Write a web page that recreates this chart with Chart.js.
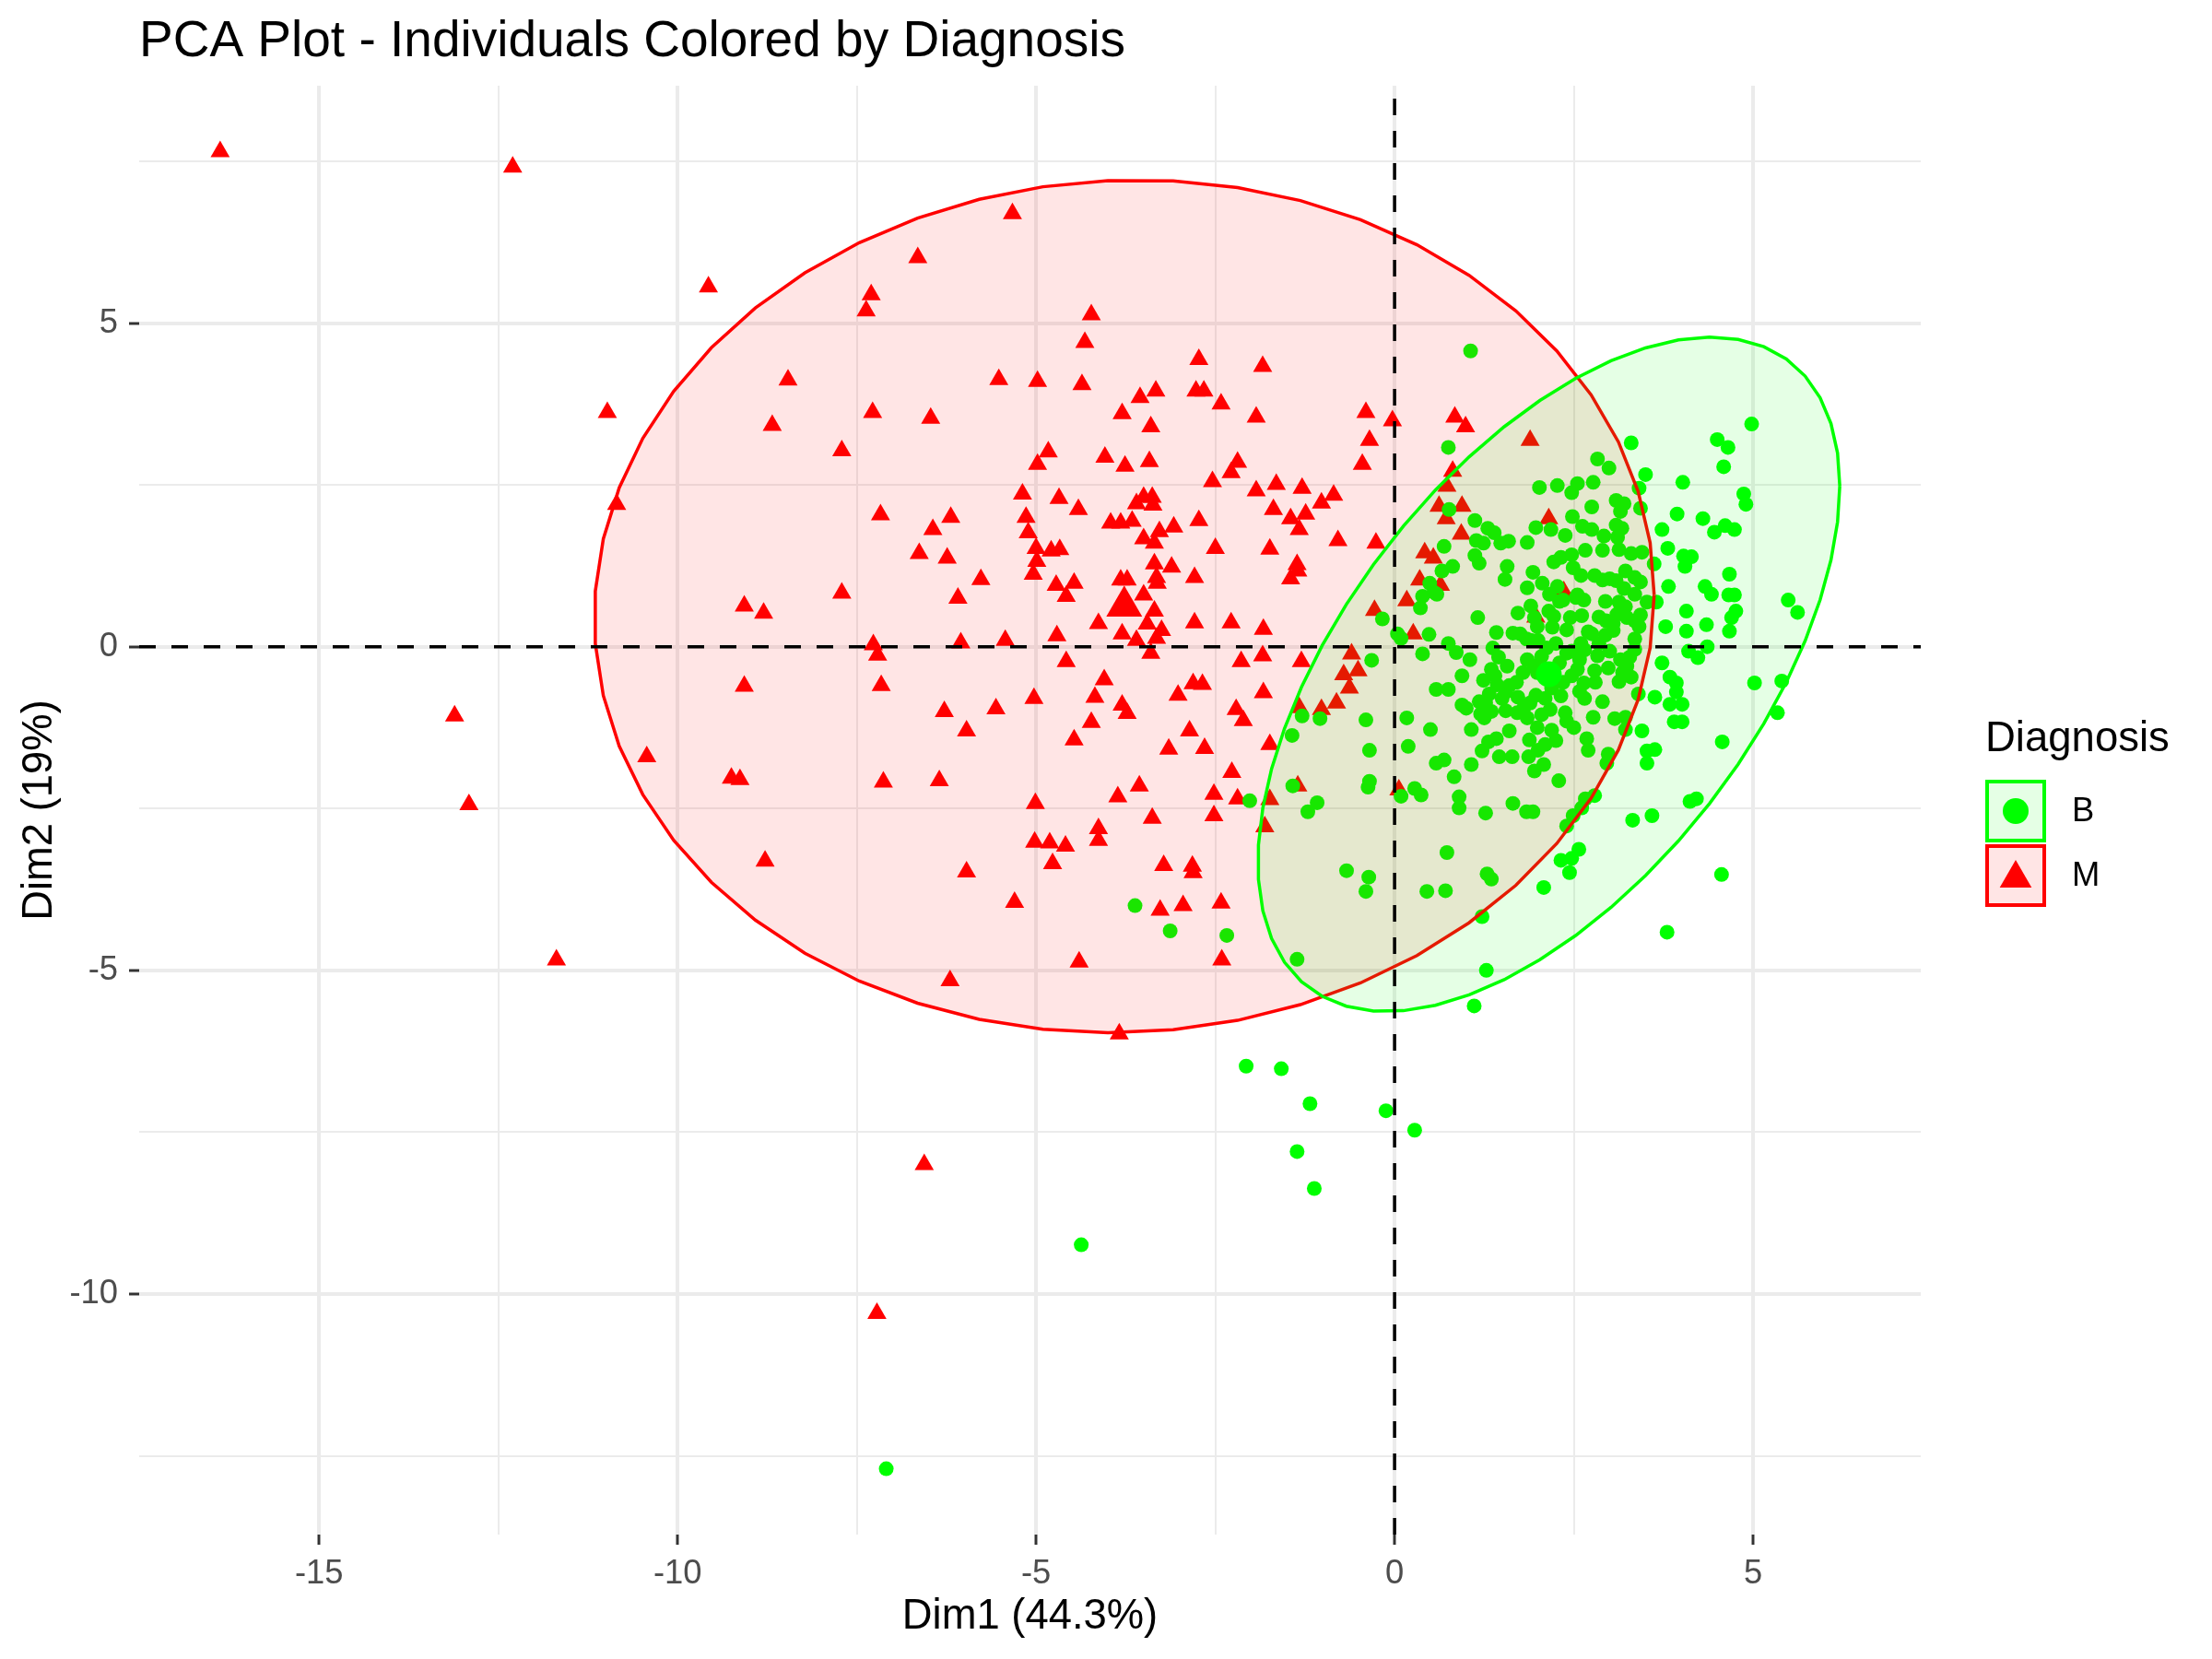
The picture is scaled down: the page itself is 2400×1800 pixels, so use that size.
<!DOCTYPE html>
<html>
<head>
<meta charset="utf-8">
<script src="https://cdn.jsdelivr.net/npm/chart.js@4.4.1/dist/chart.umd.min.js"></script>
<style>
	html, body { margin: 0; padding: 0; background: #fff; }
	#wrap { width: 2400px; height: 1800px; }
</style>
</head>
<body>
<div id="wrap"><canvas id="pca-chart"></canvas></div>
<script>
// individuals on the first two principal components
const groups = ["B", "M"];
const benign = [
	[0.49,0.98],[0.39,0.78],[0.55,0.84],[0.36,0.60],[-0.17,0.43],[0.04,0.20],[0.09,0.13],[0.48,0.19],[0.39,-0.11],[-0.32,-0.21],
	[0.58,-0.66],[-1.29,-1.07],[-1.04,-1.11],[-0.40,-1.13],[0.17,-1.10],[0.50,-1.28],[-1.43,-1.37],[-0.35,-1.60],[0.19,-1.54],[0.58,-1.80],
	[-1.42,-2.15],[-0.35,-2.08],[-0.37,-2.17],[0.09,-2.31],[0.28,-2.19],[0.37,-2.29],[-2.02,-2.38],[-1.08,-2.41],[-1.21,-2.55],[-0.67,-3.46],
	[-0.36,-3.56],[-0.40,-3.78],[0.45,-3.78],[-3.13,-4.39],[-2.34,-4.46],[-1.36,-4.83],[-2.07,-6.48],[-1.58,-6.52],[-3.62,-4.00],
	[1.06,4.57],[-1.18,-7.06],[-1.36,-7.80],[-1.12,-8.37],[-0.12,-7.17],[0.28,-7.47],[-4.37,-9.24],[-7.09,-12.70],
	[0.75,3.08],[2.83,2.90],[2.99,2.76],[2.02,2.46],[2.27,2.49],[2.47,2.38],[2.55,2.52],[2.77,2.54],[2.75,2.16],[0.76,2.12],
	[1.12,1.95],[1.30,1.83],[1.39,1.76],[1.97,1.84],[2.18,1.81],[2.38,1.72],[2.48,2.01],[2.62,1.86],[2.75,1.81],[2.92,1.71],
	[0.69,1.55],[1.14,1.64],[1.24,1.60],[1.48,1.60],[1.59,1.63],[1.85,1.61],[2.66,1.49],[2.90,1.49],[1.12,1.41],[1.18,1.29],
	[0.81,1.24],[0.66,1.17],[1.57,1.24],[1.54,1.04],[1.93,1.15],[2.22,1.31],[2.32,1.38],[2.47,1.42],[2.49,1.22],[2.60,1.10],
	[2.79,1.10],[2.90,1.03],[1.85,0.91],[2.06,0.98],[2.16,0.81],[2.27,0.93],[2.35,0.72],[2.53,0.76],[2.64,0.72],[0.59,0.81],
	[2.94,0.70],[1.16,0.45],[1.72,0.52],[1.90,0.63],[2.22,0.47],[2.61,0.48],[2.85,0.46],[3.05,0.36],[1.42,0.22],[1.65,0.21],
	[1.99,0.31],[2.40,0.26],[2.70,0.23],[2.94,0.18],[0.75,0.05],[1.84,0.12],[0.86,-0.09],[1.37,-0.02],[2.12,-0.02],[2.47,-0.07],
	[2.58,-0.20],[2.83,-0.14],[3.00,-0.07],[1.45,-0.16],[1.57,-0.30],[1.35,-0.35],[0.94,-0.45],[1.79,-0.40],[1.99,-0.40],[2.47,-0.45],
	[2.64,-0.56],[2.79,-0.37],[2.98,-0.33],[0.75,-0.66],[1.24,-0.52],[1.43,-0.59],[1.32,-0.73],[2.19,-0.64],[2.32,-0.76],[2.58,-0.69],
	[1.18,-0.85],[1.72,-0.78],[1.97,-0.75],
	[0.94,-0.90],[1.27,-0.87],[1.55,-0.99],[1.71,-1.02],[1.20,-1.04],[1.89,-0.87],[2.17,-0.97],[2.38,-1.02],[1.99,-1.25],[2.19,-1.29],
	[1.88,-1.44],[2.10,-1.51],[1.31,-1.47],[1.42,-1.42],[1.07,-1.28],[1.22,-1.61],[1.46,-1.70],[1.64,-1.70],[1.87,-1.70],[1.95,-1.92],
	[2.08,-1.82],[0.69,-1.75],[1.07,-1.82],[0.83,-2.01],[2.29,-2.07],[2.77,-1.09],[3.07,-1.11],[3.22,-1.28],[2.68,-1.42],[2.98,-1.66],
	[2.96,-1.80],[0.90,-2.32],[0.90,-2.49],[1.27,-2.57],[1.65,-2.42],[1.84,-2.55],[1.93,-2.55],[2.66,-2.35],[2.79,-2.30],[2.61,-2.49],
	[2.49,-2.61],[2.40,-2.77],[2.57,-3.13],[2.47,-3.27],[2.32,-3.30],[2.44,-3.49],[2.08,-3.72],[0.73,-3.18],[1.29,-3.51],[1.35,-3.59],
	[0.71,-3.77],[1.22,-4.17],[1.28,-5.00],[1.11,-5.55],
	[4.98,3.44],[4.50,3.20],[4.65,3.08],[4.59,2.78],[3.30,3.15],[3.50,2.66],[4.02,2.54],[3.41,2.45],[4.87,2.36],[4.90,2.20],
	[3.09,2.26],[3.20,2.21],[3.43,2.14],[3.94,2.05],[4.30,1.98],[4.46,1.77],[4.61,1.87],[4.74,1.81],[3.73,1.81],[3.09,1.88],
	[3.17,1.83],[3.11,1.69],[3.81,1.52],[4.03,1.40],[4.14,1.39],[4.05,1.24],[3.30,1.44],[3.45,1.46],[3.62,1.28],[3.13,1.50],
	[4.67,1.12],[4.33,0.93],[4.42,0.81],[4.66,0.80],[4.74,0.80],[3.82,0.93],[3.22,1.17],[3.35,1.07],[3.43,1.00],[3.09,1.02],
	[3.35,0.81],[3.52,0.69],[3.65,0.69],[5.49,0.72],[5.62,0.53],[4.07,0.55],[4.76,0.55],[4.70,0.45],[4.35,0.34],[4.67,0.24],
	[4.07,0.24],[3.78,0.31],[3.24,0.45],[3.43,0.49],[3.35,0.12],[4.10,-0.07],[4.23,-0.17],[4.36,0.00],[3.73,-0.25],[3.28,-0.16],
	[3.18,-0.40],[3.30,-0.47],[3.84,-0.47],[3.93,-0.56],[5.02,-0.56],[5.40,-0.53],[3.40,-0.73],[3.93,-0.70],[3.63,-0.78],[4.01,-0.89],
	[3.84,-0.89],[3.15,2.09],[3.22,0.62],[3.35,0.40],[3.41,0.31],[3.35,-0.04],[3.24,-0.30],[3.13,-0.54],[3.13,0.69],
	[5.34,-1.02],[4.57,-1.47],[3.52,-1.61],[3.63,-1.59],[3.52,-1.80],[3.22,-1.09],[3.45,-1.30],[3.90,-1.16],[4.01,-1.16],[4.12,-2.39],
	[4.21,-2.35],[3.32,-2.68],[3.59,-2.61],[4.56,-3.52],[3.80,-4.41],
	// dense core, mostly hidden under neighbouring dots
	[2.05,-0.15],[2.30,-0.25],[2.15,-0.50],[1.95,-0.30],[2.40,-0.10],[2.25,0.05],[1.85,-0.20],[2.55,-0.35],[2.10,-0.80],[1.70,-0.55],
	[2.35,-0.55],[2.00,0.10],[2.65,-0.05],[1.60,-0.60],[2.85,0.05],[2.20,0.30],[1.80,-0.95],[2.45,0.45],[2.75,0.20],[2.05,-1.05],
	[1.55,-0.70],[2.95,0.40],[2.40,-1.15],[1.75,0.20],[2.65,-0.80],[3.05,0.25],[2.15,0.55],[1.40,-0.45],[1.25,-1.10],[1.50,-0.80],
	[1.85,-1.10],[2.50,-1.25],[2.90,-0.85],[3.15,-0.20],[3.10,0.50],[2.70,-1.60],[2.25,-1.45],[1.60,-1.30],[1.05,-0.20],[1.00,-0.95],
	[2.60,0.05],[2.30,0.70],[1.95,0.45],[2.80,-0.55],[3.20,0.90],[1.35,-1.00],[2.00,-1.60],[2.55,0.80],[3.00,1.05],[1.90,0.10]
];
const malignant = [
	[-16.38,7.65],[-12.30,7.41],[-9.57,5.56],[-10.98,3.62],[-10.85,2.20],[-13.11,-1.07],[-12.91,-2.44],[-11.69,-4.84],[-10.43,-1.70],[-9.07,0.63],
	[-8.80,0.52],[-9.07,-0.61],[-9.25,-2.03],[-9.13,-2.05],[-8.78,-3.31],[-8.46,4.12],[-8.68,3.42],[-7.22,-10.30],[-6.56,-8.00],[-5.33,6.69],
	[-6.65,6.01],
	[-7.30,5.44],[-7.37,5.19],[-4.23,5.13],[-4.32,4.70],[-5.52,4.13],[-4.98,4.10],[-4.36,4.05],[-3.55,3.85],[-3.33,3.95],[-3.80,3.60],
	[-3.40,3.40],[-7.28,3.62],[-6.47,3.53],[-7.71,3.03],[-4.83,3.01],[-4.98,2.82],[-4.04,2.93],[-3.76,2.79],[-3.42,2.86],[-5.19,2.36],
	[-4.68,2.29],[-4.41,2.12],[-3.60,2.21],[-3.50,2.31],[-3.38,2.31],[-3.37,2.19],[-3.96,1.91],[-3.82,1.91],[-3.66,1.94],[-3.50,1.67],
	[-3.28,1.78],[-3.35,1.60],[-7.17,2.04],[-6.19,2.00],[-6.44,1.81],[-6.63,1.44],[-6.24,1.37],[-5.14,2.00],[-5.11,1.76],[-5.00,1.52],
	[-4.79,1.48],[-4.67,1.50],[-4.99,1.32],[-5.04,1.12],[-5.77,1.04],[-6.09,0.75],[-7.71,0.83],[-4.72,0.95],[-4.47,0.98],[-4.58,0.78],
	[-3.82,1.03],[-3.73,1.03],[-3.35,1.28],[-3.32,1.07],[-3.31,0.98],[-4.13,0.36],[-4.71,0.17],[-3.32,0.13],[-5.43,0.10],[-6.05,0.06],
	[-7.27,0.03],[-7.21,-0.13],[-4.58,-0.23],
	[-7.16,-0.60],[-4.05,-0.51],[-4.18,-0.78],[-3.80,-0.90],[-3.73,-1.03],[-5.03,-0.80],[-6.28,-1.00],[-5.56,-0.96],[-5.97,-1.30],[-4.23,-1.17],
	[-4.47,-1.44],[-7.13,-2.09],[-6.35,-2.07],[-5.01,-2.42],[-3.56,-2.15],[-3.86,-2.32],[-4.13,-2.81],[-4.13,-2.99],[-5.02,-3.02],[-4.81,-3.03],
	[-4.59,-3.08],[-4.77,-3.35],[-5.97,-3.48],[-5.30,-3.95],[-4.40,-4.87],[-6.20,-5.16],[-3.84,-5.98],
	[-2.73,4.44],[-1.84,4.33],[-2.77,3.95],[-2.66,3.95],[-2.42,3.75],[-1.93,3.55],[-0.40,3.62],[-0.03,3.49],[-0.35,3.19],[-0.45,2.82],
	[-2.19,2.85],[-2.28,2.69],[-2.54,2.55],[-1.93,2.41],[-1.65,2.51],[-1.29,2.45],[-0.85,2.34],[-1.02,2.22],[-1.69,2.12],[-1.45,1.98],
	[-1.24,2.05],[-1.33,1.81],[-2.73,1.95],[-3.08,1.85],[-2.50,1.52],[-1.74,1.51],[-0.79,1.64],[-0.26,1.60],[-3.11,1.23],[-2.79,1.07],
	[-1.36,1.27],[-1.35,1.17],[-1.45,1.05],[-2.79,0.37],[-2.28,0.37],[-1.83,0.27],[0.42,1.45],[0.54,1.37],[0.35,1.03],[0.17,0.71],
	[-0.28,0.56],[0.26,0.20],[-0.60,-0.11],[-1.84,-0.14],[-2.14,-0.23],[-1.30,-0.23],
	[-0.71,-0.43],[-0.51,-0.37],[-0.63,-0.64],[-0.81,-0.87],[-1.02,-0.97],[-1.33,-0.94],[-3.02,-0.75],[-2.81,-0.57],[-2.68,-0.58],[-1.83,-0.71],
	[-2.21,-0.97],[-2.11,-1.14],[-2.86,-1.30],[-3.15,-1.58],[-2.65,-1.57],[-1.74,-1.51],[-2.27,-1.94],[-2.52,-2.28],[-2.19,-2.35],[-1.74,-2.36],
	[-1.35,-2.15],[-2.52,-2.61],[-3.38,-2.65],[-1.81,-2.78],[-3.22,-3.38],[-2.82,-3.39],[-2.81,-3.49],[-3.27,-4.07],[-2.95,-4.00],[-2.42,-3.96],
	[-2.41,-4.84],[0.06,-2.21],
	[0.84,3.55],[0.99,3.40],[1.89,3.19],[0.81,2.71],[0.73,2.48],[0.62,2.17],[0.94,2.17],[0.72,1.98],[0.93,1.74],[2.15,1.98],
	[0.64,0.95],[2.36,0.85],[1.97,0.46],
	// hidden under the group mean marker
	[-3.45,0.35],[-3.60,0.10],[-3.35,0.55],[-3.80,0.20],[-3.50,0.80],[-3.25,0.25],[-3.40,-0.10]
];
const xMajor = [-15, -10, -5, 0, 5];
const xMinor = [-12.5, -7.5, -2.5, 2.5];
const yMajor = [-10, -5, 0, 5];
const yMinor = [-12.5, -7.5, -2.5, 2.5, 7.5];
const colors = { B: "#00FF00", M: "#FF0000" };
const fills = { B: "rgba(0,255,0,0.1)", M: "rgba(255,0,0,0.1)" };
const shapes = { B: "circle", M: "triangle" };

const FONT = '"Liberation Sans", Arial, Helvetica, sans-serif';

// normal-theory 95% ellipse, like stat_ellipse(type = "norm")
function groupStats(pts) {
	const n = pts.length;
	let mx = 0, my = 0;
	pts.forEach((p) => { mx += p[0]; my += p[1]; });
	mx /= n; my /= n;
	let sxx = 0, syy = 0, sxy = 0;
	pts.forEach((p) => {
		sxx += (p[0] - mx) ** 2;
		syy += (p[1] - my) ** 2;
		sxy += (p[0] - mx) * (p[1] - my);
	});
	sxx /= n - 1; syy /= n - 1; sxy /= n - 1;
	// chol(cov) upper triangle
	const a = Math.sqrt(sxx), b = sxy / a, c = Math.sqrt(syy - b * b);
	// qf(0.95, 2, n - 1) has a closed form for 2 numerator df
	const m = n - 1;
	const fq = (m / 2) * (Math.pow(0.05, -2 / m) - 1);
	const r = Math.sqrt(2 * fq);
	const ring = [];
	for (let i = 0; i <= 51; i++) {
		const t = (i * 2 * Math.PI) / 51;
		const u = Math.cos(t), v = Math.sin(t);
		ring.push({ x: mx + r * u * a, y: my + r * (u * b + v * c) });
	}
	return { mean: { x: mx, y: my }, ring: ring };
}

const stats = { B: groupStats(benign), M: groupStats(malignant) };
const toXY = (pts) => pts.map((p) => ({ x: p[0], y: p[1] }));

// ggplot-style limits: data + ellipses, expanded 5%
let allX = [], allY = [];
[benign, malignant].forEach((g) => g.forEach((p) => { allX.push(p[0]); allY.push(p[1]); }));
groups.forEach((g) => stats[g].ring.forEach((p) => { allX.push(p.x); allY.push(p.y); }));
const xLo = Math.min(...allX), xHi = Math.max(...allX);
const yLo = Math.min(...allY), yHi = Math.max(...allY);
const xPad = (xHi - xLo) * 0.05, yPad = (yHi - yLo) * 0.05;

const zeroLines = {
	id: "zeroLines",
	afterDatasetsDraw(chart) {
		const { ctx, chartArea: a, scales } = chart;
		const px = scales.x.getPixelForValue(0);
		const py = scales.y.getPixelForValue(0);
		ctx.save();
		ctx.strokeStyle = "#000";
		ctx.lineWidth = 3.5;
		ctx.setLineDash([18, 17]);
		ctx.beginPath();
		ctx.moveTo(a.left, py);
		ctx.lineTo(a.right, py);
		ctx.stroke();
		ctx.beginPath();
		ctx.moveTo(px, a.bottom);
		ctx.lineTo(px, a.top);
		ctx.stroke();
		ctx.restore();
	},
};

const keyLegend = {
	id: "keyLegend",
	afterDraw(chart) {
		const ctx = chart.ctx;
		const x0 = chart.chartArea.right + 70;
		ctx.save();
		ctx.fillStyle = "#000";
		ctx.font = "45.5px " + FONT;
		ctx.textBaseline = "alphabetic";
		ctx.textAlign = "left";
		ctx.fillText("Diagnosis", x0, 815);
		groups.forEach((g, i) => {
			const top = 846 + i * 70;
			ctx.fillStyle = "#fff";
			ctx.fillRect(x0, top, 66, 68);
			ctx.fillStyle = fills[g];
			ctx.fillRect(x0, top, 66, 68);
			ctx.strokeStyle = colors[g];
			ctx.lineWidth = 4;
			ctx.strokeRect(x0 + 2, top + 2, 62, 64);
			ctx.fillStyle = colors[g];
			ctx.strokeStyle = colors[g];
			Chart.helpers.drawPoint(ctx, {
				pointStyle: shapes[g],
				radius: g === "B" ? 14 : 20,
				borderWidth: 0,
			}, x0 + 33, top + 34 + (g === "M" ? 3 : 0));
			ctx.fillStyle = "#000";
			ctx.font = "36.4px " + FONT;
			ctx.textBaseline = "middle";
			ctx.fillText(g, x0 + 94, top + 35);
		});
		ctx.restore();
	},
};

const isMajor = (list, v) => list.some((t) => Math.abs(t - v) < 1e-9);

new Chart(document.getElementById("pca-chart"), {
	type: "scatter",
	data: {
		datasets: [
			// centroids on top
			{
				data: [stats.B.mean],
				pointStyle: "circle",
				pointRadius: 14,
				pointBorderWidth: 0,
				pointBackgroundColor: colors.B,
			},
			{
				data: [stats.M.mean],
				pointStyle: "triangle",
				pointRadius: 22.5,
				pointBorderWidth: 0,
				pointBackgroundColor: colors.M,
			},
			// ellipses drawn over the points
			{
				data: stats.B.ring,
				showLine: true,
				pointRadius: 0,
				borderColor: colors.B,
				borderWidth: 3.5,
				backgroundColor: fills.B,
				fill: "shape",
				tension: 0,
			},
			{
				data: stats.M.ring,
				showLine: true,
				pointRadius: 0,
				borderColor: colors.M,
				borderWidth: 3.5,
				backgroundColor: fills.M,
				fill: "shape",
				tension: 0,
			},
			{
				data: toXY(benign),
				pointStyle: "circle",
				pointRadius: 8,
				pointBorderWidth: 0,
				pointBackgroundColor: colors.B,
			},
			{
				data: toXY(malignant),
				pointStyle: "triangle",
				pointRadius: 12,
				pointBorderWidth: 0,
				pointBackgroundColor: colors.M,
			},
		],
	},
	plugins: [zeroLines, keyLegend],
	options: {
		responsive: true,
		maintainAspectRatio: false,
		devicePixelRatio: 1,
		animation: false,
		events: [],
		layout: {
			padding: { top: 0, right: 316, bottom: 0, left: 0 },
		},
		plugins: {
			legend: { display: false },
			tooltip: { enabled: false },
			title: {
				display: true,
				text: "PCA Plot - Individuals Colored by Diagnosis",
				align: "start",
				fullSize: false,
				color: "#000",
				font: { family: FONT, size: 55, weight: "normal" },
				padding: { top: 13, bottom: 14 },
			},
		},
		scales: {
			x: {
				type: "linear",
				min: xLo - xPad,
				max: xHi + xPad,
				afterBuildTicks: (s) => {
					s.ticks = [...xMajor, ...xMinor].sort((p, q) => p - q).map((v) => ({ value: v }));
				},
				afterFit: (s) => { s.height = 135; },
				border: { display: false },
				grid: {
					color: "#EBEBEB",
					lineWidth: (c) => (isMajor(xMajor, c.tick.value) ? 4 : 2),
					tickColor: (c) => (isMajor(xMajor, c.tick.value) ? "#333" : "rgba(0,0,0,0)"),
					tickLength: 11,
					tickWidth: 3,
				},
				ticks: {
					autoSkip: false,
					maxRotation: 0,
					padding: 10,
					color: "#4D4D4D",
					font: { family: FONT, size: 36.4 },
					callback: (v) => (isMajor(xMajor, v) ? String(v) : ""),
				},
				title: {
					display: true,
					text: "Dim1 (44.3%)",
					color: "#000",
					font: { family: FONT, size: 45.4 },
					padding: { top: 0, bottom: 18 },
				},
			},
			y: {
				type: "linear",
				min: yLo - yPad,
				max: yHi + yPad,
				afterBuildTicks: (s) => {
					s.ticks = [...yMajor, ...yMinor].sort((p, q) => p - q).map((v) => ({ value: v }));
				},
				afterFit: (s) => { s.width = 151; },
				border: { display: false },
				grid: {
					color: "#EBEBEB",
					lineWidth: (c) => (isMajor(yMajor, c.tick.value) ? 4 : 2),
					tickColor: (c) => (isMajor(yMajor, c.tick.value) ? "#333" : "rgba(0,0,0,0)"),
					tickLength: 11,
					tickWidth: 3,
				},
				ticks: {
					autoSkip: false,
					padding: 12,
					color: "#4D4D4D",
					font: { family: FONT, size: 36.4 },
					callback: (v) => (isMajor(yMajor, v) ? String(v) : ""),
				},
				title: {
					display: true,
					text: "Dim2 (19%)",
					color: "#000",
					font: { family: FONT, size: 45.4 },
					padding: { top: 16, bottom: 0 },
				},
			},
		},
	},
});
</script>
</body>
</html>
